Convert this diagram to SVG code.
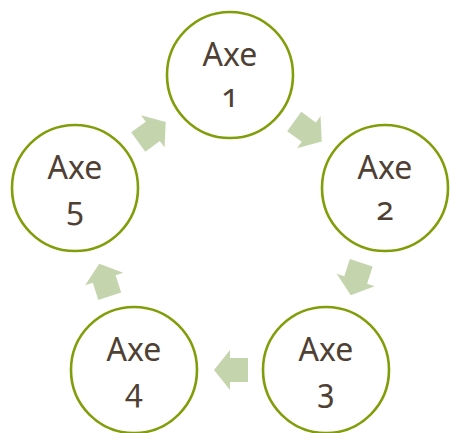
<svg xmlns="http://www.w3.org/2000/svg" width="450" height="433" viewBox="0 0 450 433">
<defs>
<style>
.node circle{fill:#fff;stroke:#7F9E0A;stroke-width:2.6}
.node text{font-family:"Noto Sans","Open Sans",sans-serif;font-size:32px;fill:#4F4034;text-anchor:middle}
.node .num{font-variant-numeric:oldstyle-nums;font-feature-settings:"onum" 1}
.arr{fill:#C4D5AE}
</style>
<path id="ar" class="arr" d="M-17,-12 H1 V-20 L17,0 L1,20 V12 H-17 Z"/>
</defs>
<rect width="450" height="433" fill="#fff"/>
<g id="connectors">
<use href="#ar" transform="translate(308,131.5) rotate(36)"/>
<use href="#ar" transform="translate(356,279) rotate(108)"/>
<use href="#ar" transform="translate(231,370) rotate(180)"/>
<use href="#ar" transform="translate(104.5,280) rotate(252)"/>
<use href="#ar" transform="translate(152,132) rotate(-36)"/>
</g>
<g id="axe1" class="node"><circle cx="230" cy="75" r="63"/><text x="230" y="66">Axe</text><text class="num" x="230" y="107">1</text></g>
<g id="axe2" class="node"><circle cx="385" cy="188" r="63"/><text x="385" y="179">Axe</text><text class="num" x="385" y="220">2</text></g>
<g id="axe3" class="node"><circle cx="326" cy="370" r="63"/><text x="326" y="361">Axe</text><text class="num" x="326" y="402">3</text></g>
<g id="axe4" class="node"><circle cx="134" cy="370" r="63"/><text x="134" y="361">Axe</text><text class="num" x="134" y="402">4</text></g>
<g id="axe5" class="node"><circle cx="75" cy="188" r="63"/><text x="75" y="179">Axe</text><text class="num" x="75" y="220">5</text></g>
</svg>
